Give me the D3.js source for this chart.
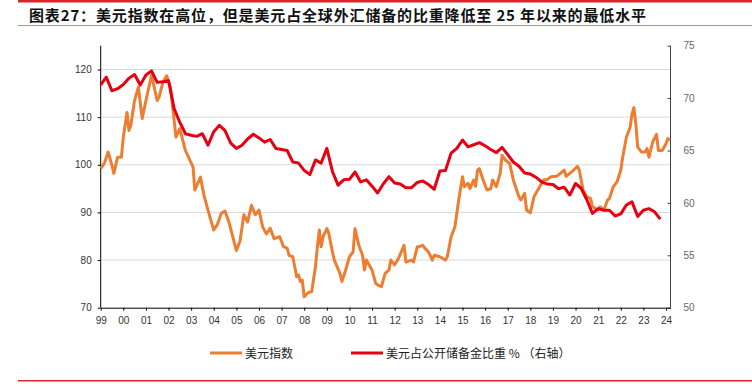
<!DOCTYPE html>
<html>
<head>
<meta charset="utf-8">
<script src="https://cdn.jsdelivr.net/npm/d3@7"></script>
<style>
  body { margin: 0; background: #fff; }
  svg { display: block; }
  .tick text { font-family: "Liberation Sans", Arial, sans-serif; }
</style>
</head>
<body>
<div id="chart"></div>
<script>
// USD index (left axis)
var usdIndex = [
  ["1999-01", 99.2], ["1999-03", 100.3], ["1999-05", 102.7], ["1999-07", 99.9], ["1999-08", 98.2],
  ["1999-10", 101.6], ["1999-12", 101.6], ["2000-01", 105.8], ["2000-03", 111.0], ["2000-04", 107.2],
  ["2000-05", 108.3], ["2000-07", 113.5], ["2000-09", 116.3], ["2000-11", 109.7], ["2001-01", 113.5],
  ["2001-04", 118.8], ["2001-07", 113.5], ["2001-08", 114.2], ["2001-10", 117.3], ["2001-12", 118.7],
  ["2002-02", 116.3], ["2002-05", 105.8], ["2002-07", 107.6], ["2002-10", 103.0], ["2003-02", 99.5],
  ["2003-03", 94.7], ["2003-06", 97.4], ["2003-08", 93.3], ["2003-11", 89.0], ["2004-01", 86.3],
  ["2004-03", 87.5], ["2004-05", 89.8], ["2004-07", 90.3], ["2004-09", 88.0], ["2004-11", 85.0],
  ["2005-01", 82.0], ["2005-03", 84.0], ["2005-05", 89.5], ["2005-07", 88.0], ["2005-09", 91.5],
  ["2005-11", 89.5], ["2006-01", 90.5], ["2006-03", 87.0], ["2006-05", 85.5], ["2006-07", 86.7],
  ["2006-09", 84.5], ["2006-12", 84.9], ["2007-02", 82.8], ["2007-04", 82.5], ["2007-05", 81.0],
  ["2007-07", 80.7], ["2007-09", 76.5], ["2007-10", 76.9], ["2007-11", 75.5], ["2007-12", 75.8],
  ["2008-01", 72.3], ["2008-03", 73.1], ["2008-05", 73.4], ["2008-07", 78.6], ["2008-08", 82.8],
  ["2008-09", 86.3], ["2008-10", 82.8], ["2008-11", 84.9], ["2009-01", 86.6], ["2009-02", 85.6],
  ["2009-04", 81.7], ["2009-05", 80.0], ["2009-08", 77.2], ["2009-09", 75.5], ["2009-11", 77.9],
  ["2010-01", 80.7], ["2010-03", 81.7], ["2010-04", 86.6], ["2010-06", 83.1], ["2010-08", 81.0],
  ["2010-09", 77.9], ["2010-10", 80.0], ["2011-01", 77.9], ["2011-03", 75.1], ["2011-04", 74.8],
  ["2011-06", 74.4], ["2011-08", 77.2], ["2011-10", 77.9], ["2011-11", 80.0], ["2012-01", 79.0],
  ["2012-03", 80.3], ["2012-06", 83.1], ["2012-07", 79.6], ["2012-10", 80.0], ["2012-11", 79.6],
  ["2013-01", 82.8], ["2013-02", 82.8], ["2013-04", 83.1], ["2013-05", 82.5], ["2013-07", 81.7],
  ["2013-09", 80.0], ["2013-10", 81.0], ["2014-01", 80.7], ["2014-04", 80.0], ["2014-05", 80.7],
  ["2014-07", 84.9], ["2014-09", 87.0], ["2014-11", 92.6], ["2015-01", 97.5], ["2015-02", 95.4],
  ["2015-04", 96.1], ["2015-05", 95.0], ["2015-07", 96.8], ["2015-08", 95.5], ["2015-09", 98.9],
  ["2015-10", 99.2], ["2015-12", 96.8], ["2016-02", 94.7], ["2016-04", 95.0], ["2016-05", 96.8],
  ["2016-07", 95.4], ["2016-09", 98.2], ["2016-10", 102.0], ["2016-12", 100.9], ["2017-02", 100.3],
  ["2017-04", 96.8], ["2017-07", 93.3], ["2017-08", 92.6], ["2017-10", 94.0], ["2017-11", 90.5],
  ["2018-01", 89.9], ["2018-03", 93.3], ["2018-04", 94.0], ["2018-06", 95.4], ["2018-08", 96.8],
  ["2018-10", 96.9], ["2018-12", 97.5], ["2019-03", 97.6], ["2019-05", 98.2], ["2019-07", 98.9],
  ["2019-08", 97.6], ["2019-10", 98.2], ["2019-12", 98.9], ["2020-02", 99.7], ["2020-03", 98.9],
  ["2020-05", 94.7], ["2020-07", 93.3], ["2020-09", 92.9], ["2020-10", 91.2], ["2021-01", 90.5],
  ["2021-02", 91.2], ["2021-04", 90.5], ["2021-06", 92.6], ["2021-07", 92.9], ["2021-09", 95.4],
  ["2021-11", 96.4], ["2022-01", 98.9], ["2022-02", 101.6], ["2022-04", 105.8], ["2022-06", 107.9],
  ["2022-07", 110.7], ["2022-08", 112.0], ["2022-09", 108.6], ["2022-10", 103.7], ["2022-12", 102.7],
  ["2023-02", 102.7], ["2023-03", 103.4], ["2023-04", 101.6], ["2023-06", 104.8], ["2023-08", 106.4],
  ["2023-09", 103.0], ["2023-11", 103.0], ["2024-01", 104.4], ["2024-02", 105.5], ["2024-03", 105.1]
];

// USD share of allocated reserves, % (right axis), quarterly from 1999Q1 to 2023Q4
var reserveStart = "1999-01";
var reserveShare = [
  71.25, 72.0, 70.7, 70.9,   71.3, 71.9, 72.25, 71.25,  72.2, 72.6, 71.5, 71.55,
  71.65, 69.0, 67.7, 66.6,   66.45, 66.35, 66.6, 65.5,  66.8, 67.4, 66.9, 65.7,
  65.2, 65.5, 66.1, 66.55,   66.2, 65.8, 66.05, 65.2,   65.1, 65.0, 63.9, 63.8,
  63.1, 62.7, 64.1, 63.8,    65.2, 63.0, 61.7, 62.2,    62.25, 62.95, 62.0, 62.2,
  61.6, 60.95, 61.8, 62.5,   61.9, 61.8, 61.45, 61.45,  61.95, 62.1, 61.75, 61.3,
  63.05, 63.1, 64.75, 65.2,  66.0, 65.35, 65.55, 65.75, 65.45, 65.1, 64.8, 65.3,
  64.6, 63.9, 63.5, 62.85,   62.75, 62.45, 62.0, 61.8,  61.75, 61.35, 61.5, 60.75,
  61.85, 61.4, 60.3, 59.0,   59.45, 59.3, 59.3, 58.75,  58.95, 59.8, 60.1, 58.7,
  59.3, 59.45, 59.15, 58.45
];

var leftTicks = [70, 80, 90, 100, 110, 120];
var rightTicks = [50, 55, 60, 65, 70, 75];
var titleText = "图表27：美元指数在高位，但是美元占全球外汇储备的比重降低至 25 年以来的最低水平";
var legendLabels = ["美元指数", "美元占公开储备金比重 % （右轴）"];

var svgWidth = 752;
var svgHeight = 388;
var plot = { left: 100.7, right: 670.5, top: 45.7, bottom: 307.7 };

var orange = "#ED7D31";
var red = "#E60012";

var parseMonth = d3.timeParse("%Y-%m");

var svg = d3.select("#chart")
  .append("svg")
  .attr("width", svgWidth)
  .attr("height", svgHeight);

// frame lines and title
svg.append("rect")
  .attr("x", 18).attr("y", 0)
  .attr("width", svgWidth - 18).attr("height", 2.5)
  .attr("fill", "#D7262B");

svg.append("line")
  .attr("x1", 18).attr("x2", svgWidth)
  .attr("y1", 25.5).attr("y2", 25.5)
  .attr("stroke", "#E47B7B").attr("stroke-width", 1);

svg.append("text")
  .attr("x", 29).attr("y", 20.5)
  .attr("textLength", 617)
  .attr("lengthAdjust", "spacing")
  .style("font-family", "'Noto Sans CJK SC', sans-serif")
  .style("font-weight", "bold")
  .style("font-size", "15px")
  .attr("fill", "#111")
  .text(titleText);

svg.append("line")
  .attr("x1", 18).attr("x2", svgWidth)
  .attr("y1", 380.7).attr("y2", 380.7)
  .attr("stroke", "#E0262B").attr("stroke-width", 1.5);

// scales
var x = d3.scaleTime()
  .domain([new Date(1999, 0, 1), new Date(2024, 2, 14)])
  .range([plot.left, plot.right]);

var yLeft = d3.scaleLinear()
  .domain([70, 125])
  .range([plot.bottom, plot.top]);

var yRight = d3.scaleLinear()
  .domain([50, 75])
  .range([plot.bottom, plot.top]);

// gridlines
svg.append("g")
  .selectAll("line")
  .data(leftTicks.filter(d => d > 70))
  .enter()
  .append("line")
  .attr("x1", plot.left)
  .attr("x2", plot.right)
  .attr("y1", d => yLeft(d))
  .attr("y2", d => yLeft(d))
  .attr("stroke", "#D9D9D9")
  .attr("stroke-width", 1);

// axes
var leftAxis = d3.axisLeft(yLeft).tickValues(leftTicks).tickSize(3).tickPadding(6);
var rightAxis = d3.axisRight(yRight).tickValues(rightTicks).tickSizeInner(-3).tickSizeOuter(0).tickPadding(13);
var years = d3.range(1999, 2025).map(yr => new Date(yr, 0, 1));
var bottomAxis = d3.axisBottom(x).tickValues(years).tickSize(3).tickSizeOuter(0).tickPadding(6)
  .tickFormat(d3.timeFormat("%y"));

var gLeft = svg.append("g")
  .attr("transform", `translate(${plot.left},0)`)
  .call(leftAxis);
gLeft.select(".domain").attr("d", `M0,${plot.top}V${plot.bottom}`);

var gRight = svg.append("g")
  .attr("transform", `translate(${plot.right},0)`)
  .call(rightAxis);
gRight.select(".domain").attr("d", `M0,${plot.top}V${plot.bottom}`).attr("stroke", "#404040");

var gBottom = svg.append("g")
  .attr("transform", `translate(0,${plot.bottom})`)
  .call(bottomAxis);

[gLeft, gRight, gBottom].forEach(function(g) {
  g.selectAll("text").style("font-size", "10px");
});
gLeft.selectAll("text").attr("fill", "#333");
gBottom.selectAll("text").attr("fill", "#333");
gRight.selectAll("text").attr("fill", "#666");
gRight.selectAll(".tick line").attr("stroke", "#404040");

// lines
var usdLine = d3.line()
  .x(d => x(parseMonth(d[0])))
  .y(d => yLeft(d[1]));

svg.append("path")
  .datum(usdIndex)
  .attr("d", usdLine)
  .attr("fill", "none")
  .attr("stroke", orange)
  .attr("stroke-width", 3)
  .attr("stroke-linejoin", "round");

var startDate = parseMonth(reserveStart);
var shareLine = d3.line()
  .x((d, i) => x(d3.timeMonth.offset(startDate, i * 3)))
  .y(d => yRight(d));

svg.append("path")
  .datum(reserveShare)
  .attr("d", shareLine)
  .attr("fill", "none")
  .attr("stroke", red)
  .attr("stroke-width", 3)
  .attr("stroke-linejoin", "round");

// legend
var legend = svg.append("g")
  .style("font-family", "'Noto Sans CJK SC', sans-serif")
  .style("font-size", "12px");

var legendItems = [
  { x: 210, color: orange, label: legendLabels[0] },
  { x: 351, color: red, label: legendLabels[1] }
];

legendItems.forEach(function(item) {
  legend.append("line")
    .attr("x1", item.x).attr("x2", item.x + 32)
    .attr("y1", 353).attr("y2", 353)
    .attr("stroke", item.color)
    .attr("stroke-width", 3);
  legend.append("text")
    .attr("x", item.x + 35)
    .attr("y", 357.5)
    .attr("fill", "#222")
    .text(item.label);
});
</script>
</body>
</html>
